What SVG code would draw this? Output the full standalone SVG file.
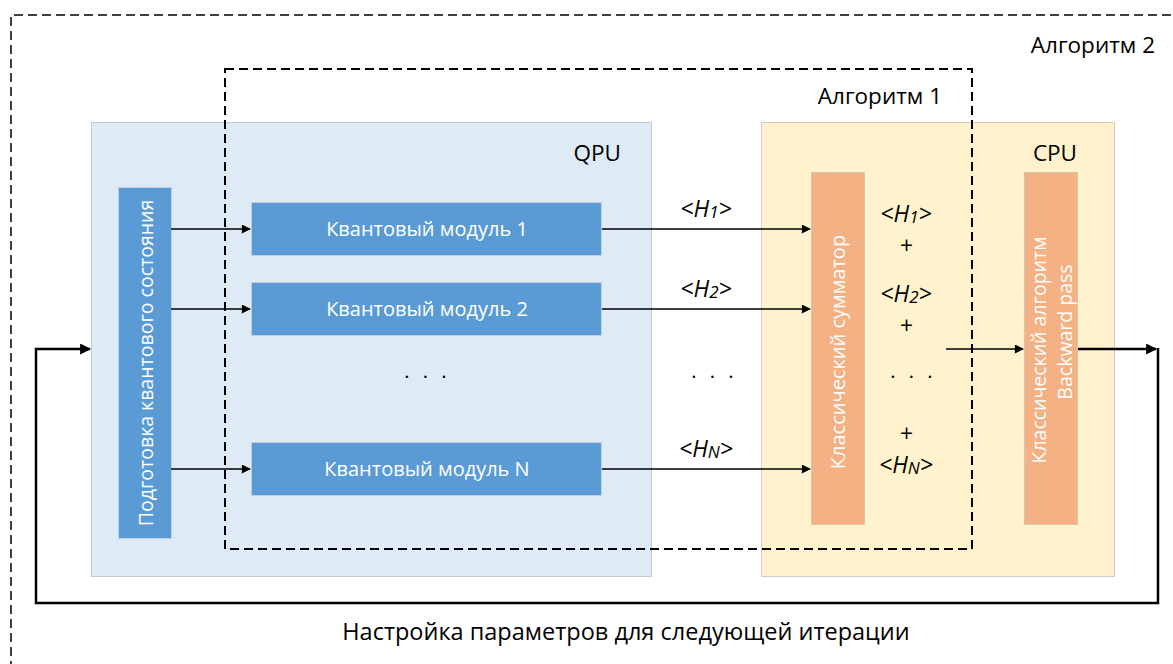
<svg xmlns="http://www.w3.org/2000/svg" width="1173" height="664" viewBox="0 0 1173 664">
<style>
.t{font-family:"Open Sans","Noto Sans","Liberation Sans",sans-serif;fill:#000}
.w{font-family:"Open Sans","Noto Sans","Liberation Sans",sans-serif;fill:#fff;font-size:19.5px}
.m{font-size:20px}
.lbl{font-size:22.5px}
.foot{font-size:23.5px}
.h{font-size:23px;font-style:italic}
.sub{font-size:17px}
.dots{font-size:20px;letter-spacing:4px}
.frame{fill:none;stroke:#000;stroke-dasharray:9 5}
.blue{fill:#5B9BD5;stroke:#BFCFE0;stroke-width:1}
.orange{fill:#F4B183;stroke:#D9C4B0;stroke-width:1}
.conn{fill:none;stroke:#000;stroke-width:1.6}
.thick{fill:none;stroke:#000;stroke-width:2.5}
</style>
<defs>
<marker id="ah" viewBox="0 0 10 10" refX="9" refY="5" markerWidth="11" markerHeight="9" markerUnits="userSpaceOnUse" orient="auto"><path d="M0,0 L10,5 L0,10 z" fill="#000"/></marker>
<marker id="ahb" viewBox="0 0 10 10" refX="9" refY="5" markerWidth="13" markerHeight="11" markerUnits="userSpaceOnUse" orient="auto"><path d="M0,0 L10,5 L0,10 z" fill="#000"/></marker>
</defs>
<rect width="1173" height="664" fill="#fff"/>

<g id="qpu">
<rect x="91.5" y="122.5" width="560" height="454" fill="#DEEAF6" stroke="#C3C9D0"/>
<text class="t lbl" x="621" y="161" text-anchor="end">QPU</text>
</g>
<g id="cpu">
<rect x="761.5" y="122.5" width="353" height="454" fill="#FFF2CC" stroke="#D0CCC0"/>
<text class="t lbl" x="1077" y="161" text-anchor="end">CPU</text>
</g>

<g id="prep">
<rect class="blue" x="118.5" y="187.5" width="53" height="351"/>
<text class="w" transform="translate(152.5,363) rotate(-90)" text-anchor="middle">Подготовка квантового состояния</text>
</g>
<g id="module1">
<rect class="blue" x="251.5" y="202.5" width="350" height="53"/>
<text class="w m" x="427" y="236" text-anchor="middle">Квантовый модуль 1</text>
</g>
<g id="module2">
<rect class="blue" x="251.5" y="282.5" width="350" height="53"/>
<text class="w m" x="427" y="316" text-anchor="middle">Квантовый модуль 2</text>
</g>
<g id="moduleN">
<rect class="blue" x="251.5" y="442.5" width="350" height="53"/>
<text class="w m" x="427" y="476" text-anchor="middle">Квантовый модуль N</text>
</g>
<g id="summator">
<rect class="orange" x="811.5" y="172.5" width="53" height="352"/>
<text class="w m" transform="translate(845,352) rotate(-90)" text-anchor="middle">Классический сумматор</text>
</g>
<g id="backward">
<rect class="orange" x="1024.5" y="172.5" width="53" height="352"/>
<text class="w" transform="translate(1046,350) rotate(-90)" text-anchor="middle">Классический алгоритм</text>
<text class="w" transform="translate(1071.5,332) rotate(-90)" text-anchor="middle">Backward pass</text>
</g>

<g id="sum-terms">
<text class="t h" x="906" y="222" text-anchor="middle">&lt;H<tspan class="sub" dy="1">1</tspan><tspan dy="-1">&gt;</tspan></text>
<text class="t h" x="906" y="254" text-anchor="middle">+</text>
<text class="t h" x="906" y="302" text-anchor="middle">&lt;H<tspan class="sub" dy="1">2</tspan><tspan dy="-1">&gt;</tspan></text>
<text class="t h" x="906" y="334" text-anchor="middle">+</text>
<text class="t dots" x="890.3" y="378">. . .</text>
<text class="t h" x="906" y="442" text-anchor="middle">+</text>
<text class="t h" x="906" y="473" text-anchor="middle">&lt;H<tspan class="sub" dy="1">N</tspan><tspan dy="-1">&gt;</tspan></text>
</g>
<g id="dots">
<text class="t dots" x="404.3" y="378">. . .</text>
<text class="t dots" x="691.3" y="378">. . .</text>
</g>

<g id="alg1">
<rect class="frame" x="225" y="69" width="747" height="480" stroke-width="2"/>
<text class="t lbl" x="942" y="104" text-anchor="end">Алгоритм 1</text>
</g>
<g id="alg2">
<path class="frame" d="M11,670 V15 H1180" stroke-width="1.5"/>
<text class="t lbl" x="1155" y="53" text-anchor="end">Алгоритм 2</text>
</g>

<g id="connectors">
<path class="conn" d="M171,229 H250" marker-end="url(#ah)"/>
<path class="conn" d="M171,309 H250" marker-end="url(#ah)"/>
<path class="conn" d="M171,469 H250" marker-end="url(#ah)"/>
<path class="conn" d="M602,229 H810" marker-end="url(#ah)"/>
<path class="conn" d="M602,309 H810" marker-end="url(#ah)"/>
<path class="conn" d="M602,469 H810" marker-end="url(#ah)"/>
<path class="conn" d="M946,349 H1023" marker-end="url(#ah)"/>
<path class="thick" d="M1078,349 H1156" marker-end="url(#ahb)"/>
<path class="thick" d="M1158,348 V603 H36 V349 H90" marker-end="url(#ahb)"/>
<text class="t h" x="706" y="217" text-anchor="middle">&lt;H<tspan class="sub" dy="1">1</tspan><tspan dy="-1">&gt;</tspan></text>
<text class="t h" x="706" y="297" text-anchor="middle">&lt;H<tspan class="sub" dy="1">2</tspan><tspan dy="-1">&gt;</tspan></text>
<text class="t h" x="706" y="457" text-anchor="middle">&lt;H<tspan class="sub" dy="1">N</tspan><tspan dy="-1">&gt;</tspan></text>
<text class="t foot" x="626" y="640" text-anchor="middle">Настройка параметров для следующей итерации</text>
</g>
</svg>
